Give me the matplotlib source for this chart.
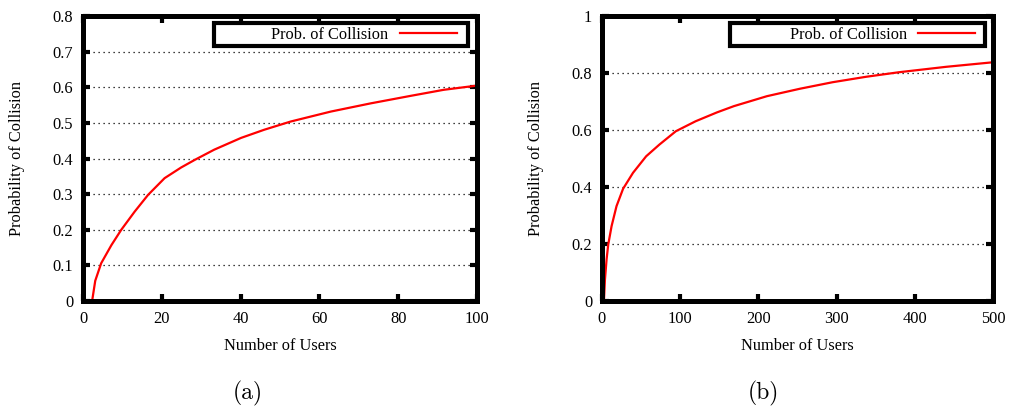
import matplotlib
matplotlib.use("Agg")
import matplotlib.pyplot as plt
from matplotlib.patches import Rectangle
from matplotlib.ticker import FormatStrFormatter

plt.rcParams["font.family"] = ["Liberation Serif", "DejaVu Serif"]

# values
users_a = [2.3, 3.1, 4.6, 7.2, 9.7, 13.1, 16.5, 20.7, 24.9, 28.3, 33.3, 40.1,
           46, 52.7, 62.9, 73, 83.1, 91.5, 100]
prob_a = [0, 0.057, 0.106, 0.157, 0.2, 0.251, 0.298, 0.345, 0.375, 0.396, 0.425,
          0.458, 0.481, 0.504, 0.532, 0.555, 0.576, 0.593, 0.605]

users_b = [2.5, 3.8, 5.9, 8, 12.3, 18.6, 27, 39.7, 56.5, 73.4, 94.5, 119.8, 147,
           168.7, 211, 253, 295, 337.6, 379.7, 440, 500]
prob_b = [0, 0.075, 0.146, 0.198, 0.263, 0.333, 0.394, 0.45, 0.508, 0.549, 0.596,
          0.631, 0.662, 0.684, 0.719, 0.745, 0.768, 0.787, 0.803, 0.822, 0.838]

xticks_a = [0, 20, 40, 60, 80, 100]
yticks_a = [0, 0.1, 0.2, 0.3, 0.4, 0.5, 0.6, 0.7, 0.8]
xticks_b = [0, 100, 200, 300, 400, 500]
yticks_b = [0, 0.2, 0.4, 0.6, 0.8, 1]

label_size = 11.8

fig = plt.figure(figsize=(10.09, 4.07), dpi=100)
ax_a = fig.add_axes([0.0823, 0.2604, 0.3905, 0.700])
ax_b = fig.add_axes([0.5966, 0.2604, 0.3875, 0.700])


def style(ax, xs, ys, xt, yt, box_x0, box_x1, line_end):
    ax.plot(xs, ys, color="#ff0000", lw=1.6, label="Prob. of Collision")
    ax.set_xlim(xt[0], xt[-1])
    ax.set_ylim(yt[0], yt[-1])
    ax.set_xticks(xt)
    ax.set_yticks(yt)
    ax.yaxis.set_major_formatter(FormatStrFormatter("%g"))
    ax.tick_params(direction="in", length=5, width=3, top=True, right=True,
                   labelsize=label_size, pad=7)
    for sp in ax.spines.values():
        sp.set_linewidth(3.6)
    ax.yaxis.grid(True, color="black", linestyle=(0, (1, 3)), lw=0.9)
    ax.set_xlabel("Number of Users", fontsize=label_size, labelpad=8)
    ax.set_ylabel("Probability of Collision", fontsize=label_size, labelpad=20)
    # gnuplot style key box
    box = Rectangle((box_x0, 0.895), box_x1 - box_x0, 0.08, transform=ax.transAxes,
                    facecolor="white", edgecolor="black", lw=3, zorder=4)
    ax.add_patch(box)
    leg = ax.legend(loc="center right", bbox_to_anchor=(line_end, 0.935),
                    borderaxespad=0, borderpad=0, markerfirst=False,
                    frameon=False, fontsize=label_size,
                    handlelength=3.5, handletextpad=0.67)
    leg.set_zorder(5)


style(ax_a, users_a, prob_a, xticks_a, yticks_a, 0.3325, 0.977, 0.949)
style(ax_b, users_b, prob_b, xticks_b, yticks_b, 0.327, 0.979, 0.954)

fig.text(0.2453, 0.003, "(a)", ha="center", va="bottom", fontsize=17, family="cmr10")
fig.text(0.757, 0.003, "(b)", ha="center", va="bottom", fontsize=17, family="cmr10")

fig.savefig("out.png", dpi=100)
